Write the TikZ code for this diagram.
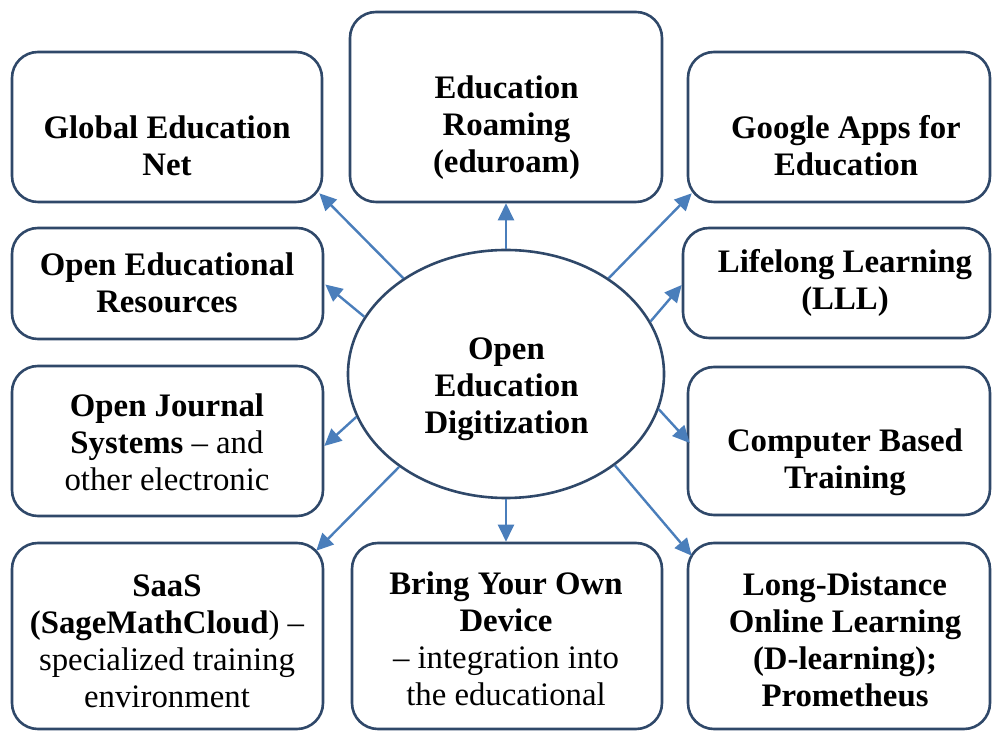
\documentclass[tikz,border=0pt]{standalone}
\usepackage{fontspec}
\setmainfont{Liberation Serif}
\usetikzlibrary{arrows.meta,shapes.geometric,calc}
\definecolor{boxc}{RGB}{47,72,105}
\definecolor{arrc}{RGB}{74,126,187}
\begin{document}
\begin{tikzpicture}[x=0.5pt,y=-0.5pt,
  box/.style={draw=boxc,line width=1.3pt,rounded corners=13pt,inner sep=0pt},
  oval/.style={draw=boxc,line width=1.3pt,ellipse,inner sep=0pt},
  txt/.style={align=center,inner sep=0pt,font=\fontsize{16.4pt}{18.5pt}\selectfont},
  conn/.style={draw=arrc,line width=1.2pt,-{Triangle[length=8.5pt,width=8pt]}}]
\useasboundingbox (0,0) rectangle (992,731);
% boxes
\node[box,minimum width=155pt,minimum height=75pt] (gen) at (167,127) {};
\node[box,minimum width=155.5pt,minimum height=55.5pt] (oer) at (167.5,283.5) {};
\node[box,minimum width=155.5pt,minimum height=75pt] (ojs) at (167.5,441) {};
\node[box,minimum width=155.5pt,minimum height=93pt] (saas) at (167.5,636) {};
\node[box,minimum width=156pt,minimum height=95pt] (er) at (506,107) {};
\node[box,minimum width=155pt,minimum height=93pt] (byod) at (507,636) {};
\node[box,minimum width=151pt,minimum height=75pt] (ga) at (839,127) {};
\node[box,minimum width=153.5pt,minimum height=55pt] (lll) at (836.5,283) {};
\node[box,minimum width=151pt,minimum height=74pt] (cbt) at (839,441) {};
\node[box,minimum width=151pt,minimum height=93pt] (ld) at (839,636) {};
\node[oval,minimum width=158pt,minimum height=124pt] (c) at (506,374) {};
% texts
\node[txt] (genT) at (167,146) {\textbf{Global Education}\\\textbf{Net}};
\node[txt] (oerT) at (167,283) {\textbf{Open Educational}\\\textbf{Resources}};
\node[txt] (ojsT) at (167,442) {\textbf{Open Journal}\\\textbf{Systems} – and\\other electronic};
\node[txt] (saasT) at (167,641) {\textbf{SaaS}\\\textbf{(SageMathCloud})~–\\specialized training\\environment};
\node[txt] (erT) at (506.5,128) {\textbf{Education}\\\textbf{Roaming}\\\textbf{(eduroam)}};
\node[txt] (byodT) at (506,639) {\textbf{Bring Your Own}\\\textbf{Device}\\– integration into\\the educational};
\node[txt] (gaT) at (846,146) {\textbf{Google Apps for}\\\textbf{Education}};
\node[txt] (lllT) at (845,283) {\textbf{Lifelong Learning}\\\textbf{(LLL)}};
\node[txt] (cbtT) at (845,462) {\textbf{Computer Based}\\\textbf{Training}};
\node[txt] (ldT) at (845,640) {\textbf{Long-Distance}\\\textbf{Online Learning}\\\textbf{(D-learning);}\\\textbf{Prometheus}};
\node[txt] (cT) at (506.5,389) {\textbf{Open}\\\textbf{Education}\\\textbf{Digitization}};
% connectors
\draw[conn] (c.137.8) -- ($(gen.south east)+(-4,-10)$);
\draw[conn] (c.north) -- (er.south);
\draw[conn] (c.43.3) -- ($(ga.south west)+(5,-10)$);
\draw[conn] (c.158.6) -- ($(oer.east)+(1,1)$);
\draw[conn] (c.20.6) -- ($(lll.west)+(0,2)$);
\draw[conn] (c.196.4) -- ($(ojs.east)+(0,5)$);
\draw[conn] (c.347.3) -- ($(cbt.west)+(3,2)$);
\draw[conn] (c.221.2) -- ($(saas.north east)+(-8,9)$);
\draw[conn] (c.south) -- (c.south |- byod.north);
\draw[conn] (c.320) -- ($(ld.north west)+(5,14)$);
\end{tikzpicture}
\end{document}
